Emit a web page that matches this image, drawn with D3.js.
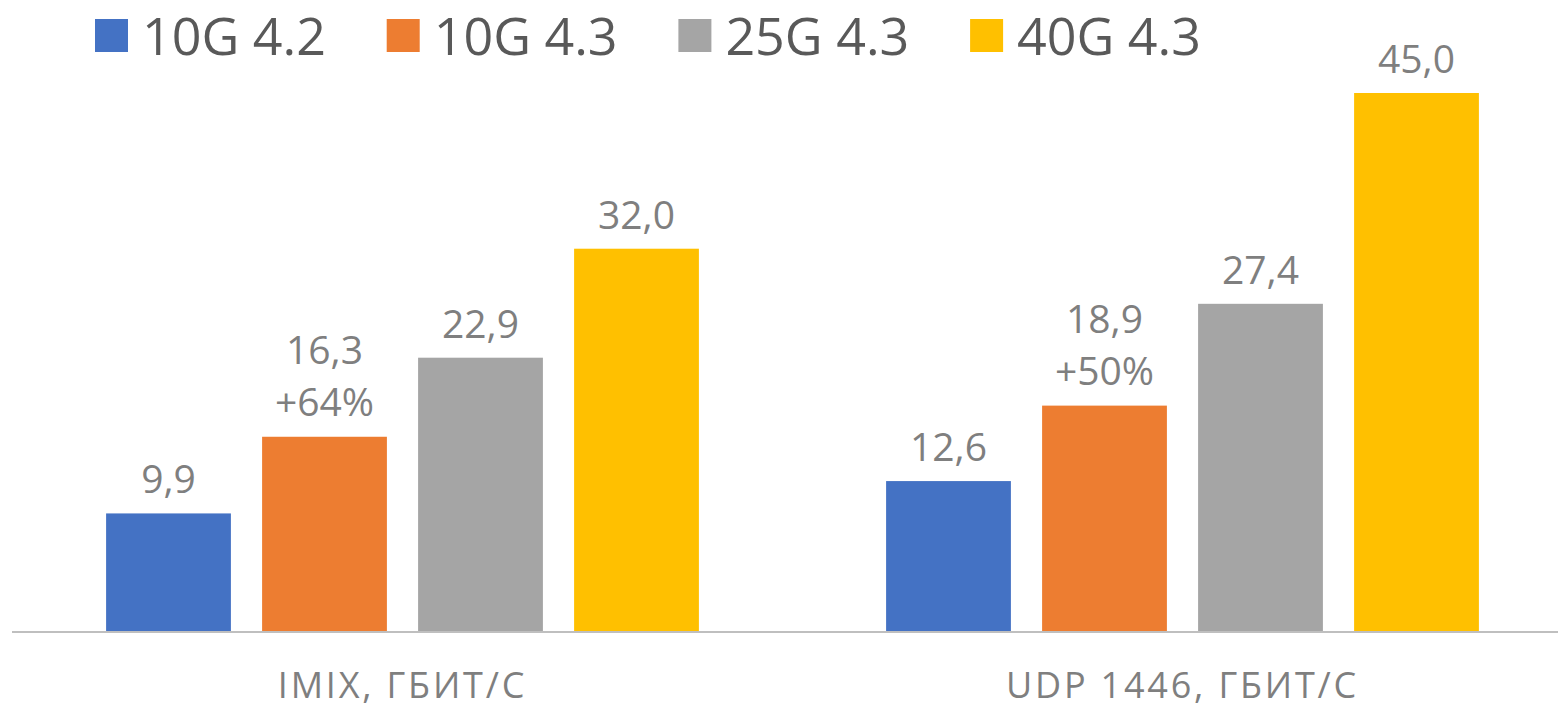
<!DOCTYPE html>
<html>
<head>
<meta charset="utf-8">
<script src="https://cdn.jsdelivr.net/npm/d3@7"></script>
<style>
    body { margin: 0; background: #fff; }
    #chart { width: 1559px; height: 710px; }
    text { font-family: 'Open Sans', sans-serif; }
</style>
</head>
<body>
<div id="chart"></div>
<script>
const categories = ['IMIX, ГБИТ/С', 'UDP 1446, ГБИТ/С'];
const seriesNames = ['10G 4.2', '10G 4.3', '25G 4.3', '40G 4.3'];
const seriesColors = ['#4472C4', '#ED7D31', '#A5A5A5', '#FFC000'];
const imixValues = [9.9, 16.3, 22.9, 32.0];
const udpValues = [12.6, 18.9, 27.4, 45.0];
const gainLabels = [['', '+64%', '', ''], ['', '+50%', '', '']];

let buildBarChart = function() {
    let width = 1559, height = 710;
    let baseline = 632;

    let svg = d3.select('#chart').append('svg')
        .attr('width', width)
        .attr('height', height);

    let rows = [imixValues, udpValues];

    let x0 = d3.scaleBand().domain(categories).range([12.5, 1572.5]);
    let x1 = d3.scaleBand().domain(seriesNames)
        .range([0, x0.bandwidth()])
        .paddingInner(0.2)
        .paddingOuter(0.6);
    let y = d3.scaleLinear().domain([0, 45]).range([baseline, 93]);

    // bars + labels
    categories.forEach(function(cat, ci) {
        let g = svg.append('g').attr('transform', 'translate(' + x0(cat) + ',0)');
        seriesNames.forEach(function(s, si) {
            let v = rows[ci][si];
            g.append('rect')
                .attr('x', x1(s))
                .attr('y', y(v))
                .attr('width', x1.bandwidth())
                .attr('height', y(0) - y(v))
                .attr('fill', seriesColors[si]);

            let cx = x1(s) + x1.bandwidth() / 2;
            let gain = gainLabels[ci][si];
            g.append('text')
                .attr('x', cx)
                .attr('y', gain ? y(v) - 73 : y(v) - 20)
                .attr('text-anchor', 'middle')
                .attr('font-size', 39)
                .attr('fill', '#7f7f7f')
                .text(d3.format('.1f')(v).replace('.', ','));
            if (gain) {
                g.append('text')
                    .attr('x', cx)
                    .attr('y', y(v) - 21)
                    .attr('text-anchor', 'middle')
                    .attr('font-size', 39)
                    .attr('fill', '#7f7f7f')
                    .text(gain);
            }
        });
    });

    // category axis
    let axis = svg.append('g')
        .attr('transform', 'translate(0,' + baseline + ')')
        .call(d3.axisBottom(x0).tickSize(0).tickPadding(40));
    axis.select('.domain').remove();
    axis.append('line')
        .attr('x1', 12).attr('x2', 1558)
        .attr('stroke', '#bfbfbf').attr('stroke-width', 2);
    axis.selectAll('.tick text')
        .attr('font-family', "'Open Sans', sans-serif")
        .attr('font-size', 36)
        .attr('letter-spacing', 2.8)
        .attr('fill', '#7f7f7f');

    // legend, equal slot per entry
    let legend = svg.append('g');
    seriesNames.forEach(function(s, i) {
        let lx = 95 + i * 291.7;
        legend.append('rect')
            .attr('x', lx).attr('y', 19)
            .attr('width', 33).attr('height', 33)
            .attr('fill', seriesColors[i]);
        legend.append('text')
            .attr('x', lx + 47)
            .attr('y', 55)
            .attr('font-size', 52)
            .attr('fill', '#595959')
            .text(s);
    });
};

buildBarChart();
</script>
</body>
</html>
